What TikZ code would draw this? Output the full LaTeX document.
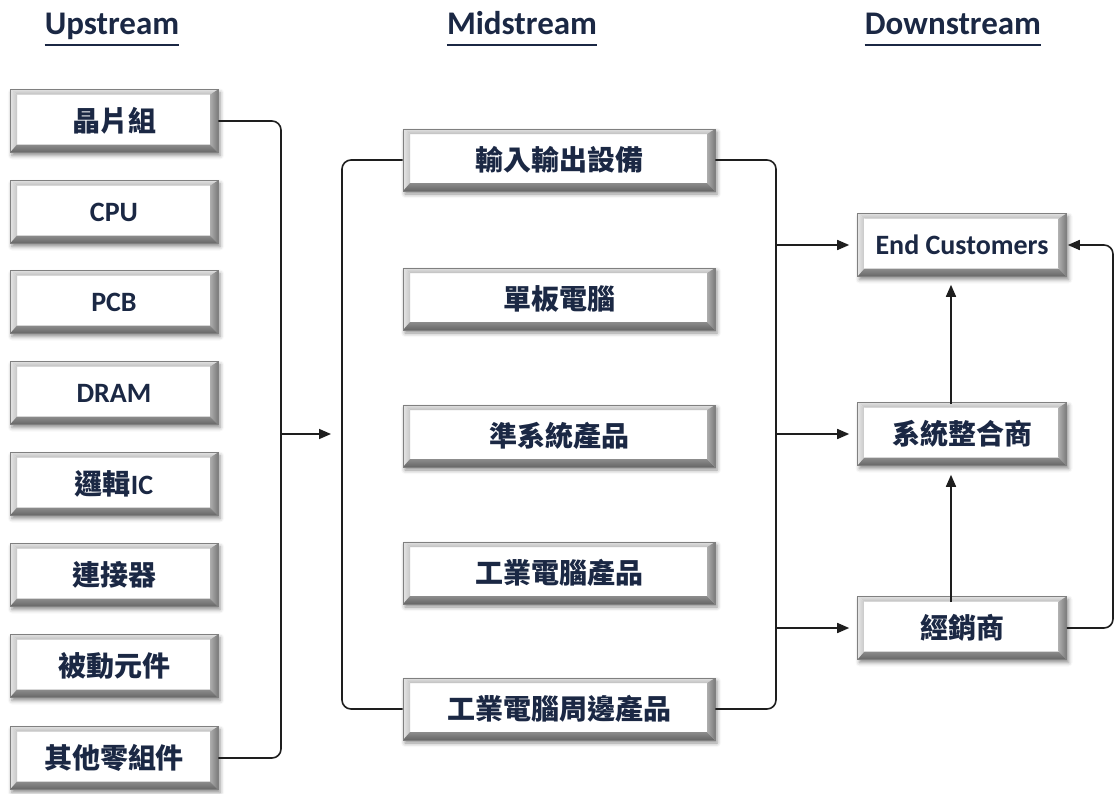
\documentclass[tikz,border=0pt]{standalone}
\usepackage{fontspec}
\setmainfont{Carlito}
\newfontfamily\cjk{Noto Sans CJK TC}
\usetikzlibrary{arrows.meta,shadows.blur,calc}
\definecolor{navy}{RGB}{27,40,68}
\definecolor{lnc}{RGB}{30,30,30}
\tikzset{
  bev/.style={draw=black!50, line width=0.6pt, fill=white, inner sep=0pt, text=navy,
    font=\bfseries\fontsize{28}{32}\selectfont,
    blur shadow={shadow xshift=2pt, shadow yshift=-3pt, shadow blur radius=4pt, shadow opacity=45},
    path picture={
      \coordinate (ppA) at (path picture bounding box.north west);
      \coordinate (ppB) at (path picture bounding box.north east);
      \coordinate (ppC) at (path picture bounding box.south east);
      \coordinate (ppD) at (path picture bounding box.south west);
      \shade[top color=black!12, bottom color=black!25] (ppA) -- (ppB) -- ([shift={(-8pt,-5pt)}]ppB) -- ([shift={(7pt,-5pt)}]ppA) -- cycle;
      \shade[left color=black!10, right color=black!22] (ppA) -- ([shift={(7pt,-5pt)}]ppA) -- ([shift={(7pt,8pt)}]ppD) -- (ppD) -- cycle;
      \shade[left color=black!32, right color=black!52] (ppB) -- (ppC) -- ([shift={(-8pt,8pt)}]ppC) -- ([shift={(-8pt,-5pt)}]ppB) -- cycle;
      \shade[top color=black!45, bottom color=black!60] (ppD) -- ([shift={(7pt,8pt)}]ppD) -- ([shift={(-8pt,8pt)}]ppC) -- (ppC) -- cycle;
    }},
  lbox/.style={bev, minimum width=208pt, minimum height=63pt},
  mbox/.style={bev, minimum width=312pt, minimum height=62pt},
  rbox/.style={bev, minimum width=209pt, minimum height=63pt},
  hdr/.style={inner sep=0pt, anchor=base, text=navy, font=\bfseries\fontsize{33}{36}\selectfont},
  uline/.style={draw=navy, line width=2.8pt},
  conn/.style={draw=lnc, line width=1.6pt, rounded corners=9pt},
  arr/.style={draw=lnc, line width=1.6pt, -{Triangle[length=12pt,width=10pt]}}
}
\begin{document}
\begin{tikzpicture}[x=1pt,y=-1pt]
\useasboundingbox (0,0) rectangle (1117,793);
% headers
\node[hdr] (hu) at (112,34) {Upstream};
\node[hdr] (hm) at (522,34) {Midstream};
\node[hdr] (hd) at (953,34) {Downstream};
\foreach \h in {hu,hm,hd}{
  \draw[uline] ([yshift=-11pt]\h.base west) -- ([yshift=-11pt]\h.base east);
}
% upstream
\node[lbox] (u1) at (114,121) {\cjk 晶片組};
\node[lbox] (u2) at (114,212) {CPU};
\node[lbox] (u3) at (114,302) {PCB};
\node[lbox] (u4) at (114,393) {DRAM};
\node[lbox] (u5) at (114,484) {{\cjk 邏輯}IC};
\node[lbox] (u6) at (114,575) {\cjk 連接器};
\node[lbox] (u7) at (114,666) {\cjk 被動元件};
\node[lbox] (u8) at (114,758) {\cjk 其他零組件};
% midstream
\node[mbox] (m1) at (559,160) {\cjk 輸入輸出設備};
\node[mbox] (m2) at (559,299) {\cjk 單板電腦};
\node[mbox] (m3) at (559,436) {\cjk 準系統產品};
\node[mbox] (m4) at (559,573) {\cjk 工業電腦產品};
\node[mbox] (m5) at (559,709) {\cjk 工業電腦周邊產品};
% downstream
\node[rbox] (d1) at (962,245) {End Customers};
\node[rbox] (d2) at (962,434) {\cjk 系統整合商};
\node[rbox] (d3) at (962,628) {\cjk 經銷商};
% helper coordinates
\coordinate (lx) at (281,434);
\coordinate (ain) at (331,434);
\coordinate (mlx) at (342,434);
\coordinate (mrx) at (776,434);
\coordinate (rx) at (1113,434);
% connectors
\draw[conn] (u1.east) -| (lx) |- (u8.east);
\draw[arr] (lx) -- (ain);
\draw[conn] (m1.west) -| (mlx) |- (m5.west);
\draw[conn] (m1.east) -| (mrx) |- (m5.east);
\draw[arr, shorten >=8pt] (mrx |- d1.west) -- (d1.west);
\draw[arr, shorten >=8pt] (mrx |- d2.west) -- (d2.west);
\draw[arr, shorten >=8pt] (mrx |- d3.west) -- (d3.west);
\draw[arr, shorten <=-6pt, shorten >=9pt] ([xshift=-11pt]d3.north) -- ([xshift=-11pt]d2.south);
\draw[arr, shorten <=-2pt, shorten >=8pt] ([xshift=-11pt]d2.north) -- ([xshift=-11pt]d1.south);
\draw[conn, -{Triangle[length=12pt,width=10pt]}, shorten >=1pt] (d3.east) -| (rx) |- (d1.east);
\end{tikzpicture}
\end{document}
